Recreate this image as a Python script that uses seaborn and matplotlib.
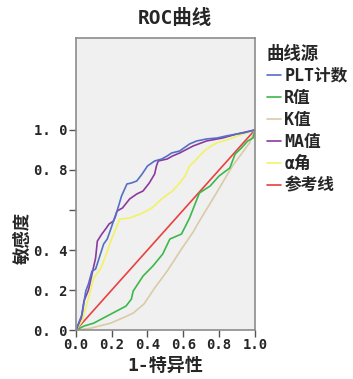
import pandas as pd
import matplotlib
matplotlib.use("Agg")
import matplotlib.pyplot as plt
import seaborn as sns
from matplotlib.lines import Line2D

# 曲线数据 (1-特异性, 敏感度)
plt_fpr = [0.0, 0.035, 0.055, 0.07, 0.09, 0.11, 0.13, 0.155, 0.175, 0.195, 0.21, 0.22, 0.235, 0.255, 0.285,
           0.31, 0.34, 0.37, 0.4, 0.44, 0.48, 0.51, 0.535, 0.58, 0.635, 0.675, 0.73, 0.79, 0.84, 0.9, 0.935, 1.0]
plt_tpr = [0.0, 0.08, 0.195, 0.23, 0.295, 0.305, 0.36, 0.43, 0.455, 0.505, 0.545, 0.565, 0.61, 0.67, 0.73,
           0.735, 0.745, 0.78, 0.82, 0.845, 0.855, 0.87, 0.885, 0.895, 0.93, 0.945, 0.955, 0.96, 0.97, 0.98, 0.985, 1.0]

r_fpr = [0.0, 0.045, 0.1, 0.195, 0.28, 0.31, 0.32, 0.375, 0.43, 0.485, 0.525, 0.59, 0.635, 0.69, 0.75, 0.8,
         0.86, 0.89, 0.925, 0.96, 0.99, 1.0]
r_tpr = [0.0, 0.02, 0.035, 0.08, 0.12, 0.155, 0.195, 0.27, 0.32, 0.38, 0.455, 0.48, 0.56, 0.685, 0.72, 0.77,
         0.81, 0.88, 0.91, 0.945, 0.96, 1.0]

k_fpr = [0.0, 0.085, 0.195, 0.285, 0.32, 0.38, 0.44, 0.51, 0.59, 0.655, 0.69, 0.765, 0.875, 0.97, 1.0]
k_tpr = [0.0, 0.01, 0.035, 0.07, 0.085, 0.13, 0.21, 0.295, 0.405, 0.49, 0.545, 0.655, 0.82, 0.935, 1.0]

ma_fpr = [0.0, 0.03, 0.045, 0.07, 0.09, 0.11, 0.12, 0.145, 0.17, 0.185, 0.21, 0.23, 0.26, 0.3, 0.34, 0.375,
          0.41, 0.44, 0.45, 0.46, 0.51, 0.54, 0.58, 0.655, 0.73, 0.82, 0.9, 1.0]
ma_tpr = [0.0, 0.06, 0.145, 0.2, 0.28, 0.36, 0.445, 0.48, 0.51, 0.53, 0.545, 0.595, 0.61, 0.655, 0.68, 0.695,
          0.735, 0.78, 0.82, 0.845, 0.855, 0.87, 0.885, 0.92, 0.945, 0.96, 0.98, 1.0]

a_fpr = [0.0, 0.035, 0.055, 0.085, 0.1, 0.14, 0.17, 0.195, 0.225, 0.245, 0.3, 0.36, 0.425, 0.485, 0.54, 0.58,
         0.61, 0.635, 0.665, 0.69, 0.73, 0.785, 0.86, 0.935, 1.0]
a_tpr = [0.0, 0.045, 0.11, 0.21, 0.26, 0.31, 0.38, 0.445, 0.51, 0.555, 0.56, 0.58, 0.61, 0.66, 0.695, 0.735,
         0.77, 0.82, 0.845, 0.87, 0.905, 0.935, 0.955, 0.98, 1.0]

ref_fpr = [0.0, 1.0]
ref_tpr = [0.0, 1.0]

names = ["PLT计数", "R值", "K值", "MA值", "α角", "参考线"]
colors = ["#5470c6", "#3cb84a", "#d8cba6", "#8b3a9e", "#f2f266", "#e8413f"]

frames = []
for name, xs, ys in zip(names,
                        [plt_fpr, r_fpr, k_fpr, ma_fpr, a_fpr, ref_fpr],
                        [plt_tpr, r_tpr, k_tpr, ma_tpr, a_tpr, ref_tpr]):
    frames.append(pd.DataFrame({"fpr": xs, "tpr": ys, "曲线源": name}))
df = pd.concat(frames, ignore_index=True)

sns.set_style("white")
fam = ["DejaVu Sans Mono", "Noto Sans CJK SC"]
plt.rcParams["font.family"] = fam
plt.rcParams["font.weight"] = "bold"

fig = plt.figure(figsize=(3.53, 3.79), dpi=100)
ax = fig.add_axes([0.215, 0.129, 0.507, 0.771])
ax.set_facecolor("#f0f0f0")

# 参考线先画在底下
order = ["参考线", "K值", "R值", "α角", "MA值", "PLT计数"]
for name in order:
    sub = df[df["曲线源"] == name]
    sns.lineplot(data=sub, x="fpr", y="tpr", color=colors[names.index(name)], sort=False,
                 estimator=None, linewidth=1.2, ax=ax, legend=False)

ax.set_xlim(0, 1)
ax.set_ylim(0, 1.46)
ax.set_xticks([0, 0.2, 0.4, 0.6, 0.8, 1.0])
ax.set_xticklabels(["0.0", "0.2", "0.4", "0.6", "0.8", "1.0"], fontsize=10, fontweight="bold")
ax.set_yticks([0, 0.2, 0.4, 0.6, 0.8, 1.0])
ax.set_yticklabels(["0. 0", "0. 2", "0. 4", "", "0. 8", "1. 0"], fontsize=10, fontweight="bold")
ax.tick_params(axis="both", direction="out", length=5, width=1, color="#555555", pad=1,
               left=True, bottom=True)
for s in ax.spines.values():
    s.set_color("#8c8c8c")
    s.set_linewidth(1.2)

ax.set_xlabel("1-特异性", fontsize=13, fontweight="bold", labelpad=3)
ax.set_ylabel("敏感度", fontsize=12.5, fontweight="bold")
ax.yaxis.set_label_coords(-0.245, 0.315)

fig.text(0.495, 0.952, "ROC曲线", ha="center", va="center", fontsize=14, fontweight="bold")

handles = [Line2D([0], [0], color=c, lw=1.2) for c in colors]
ax.legend(handles, names, title="曲线源", loc="upper left", bbox_to_anchor=(1.067, 0.977),
          frameon=False, handlelength=0.85, handletextpad=0.2, labelspacing=0.24,
          borderaxespad=0, borderpad=0, fontsize=12,
          title_fontproperties={"size": 12.5, "weight": "bold"}, alignment="left")

fig.savefig("out.png", dpi=100, facecolor="white")
